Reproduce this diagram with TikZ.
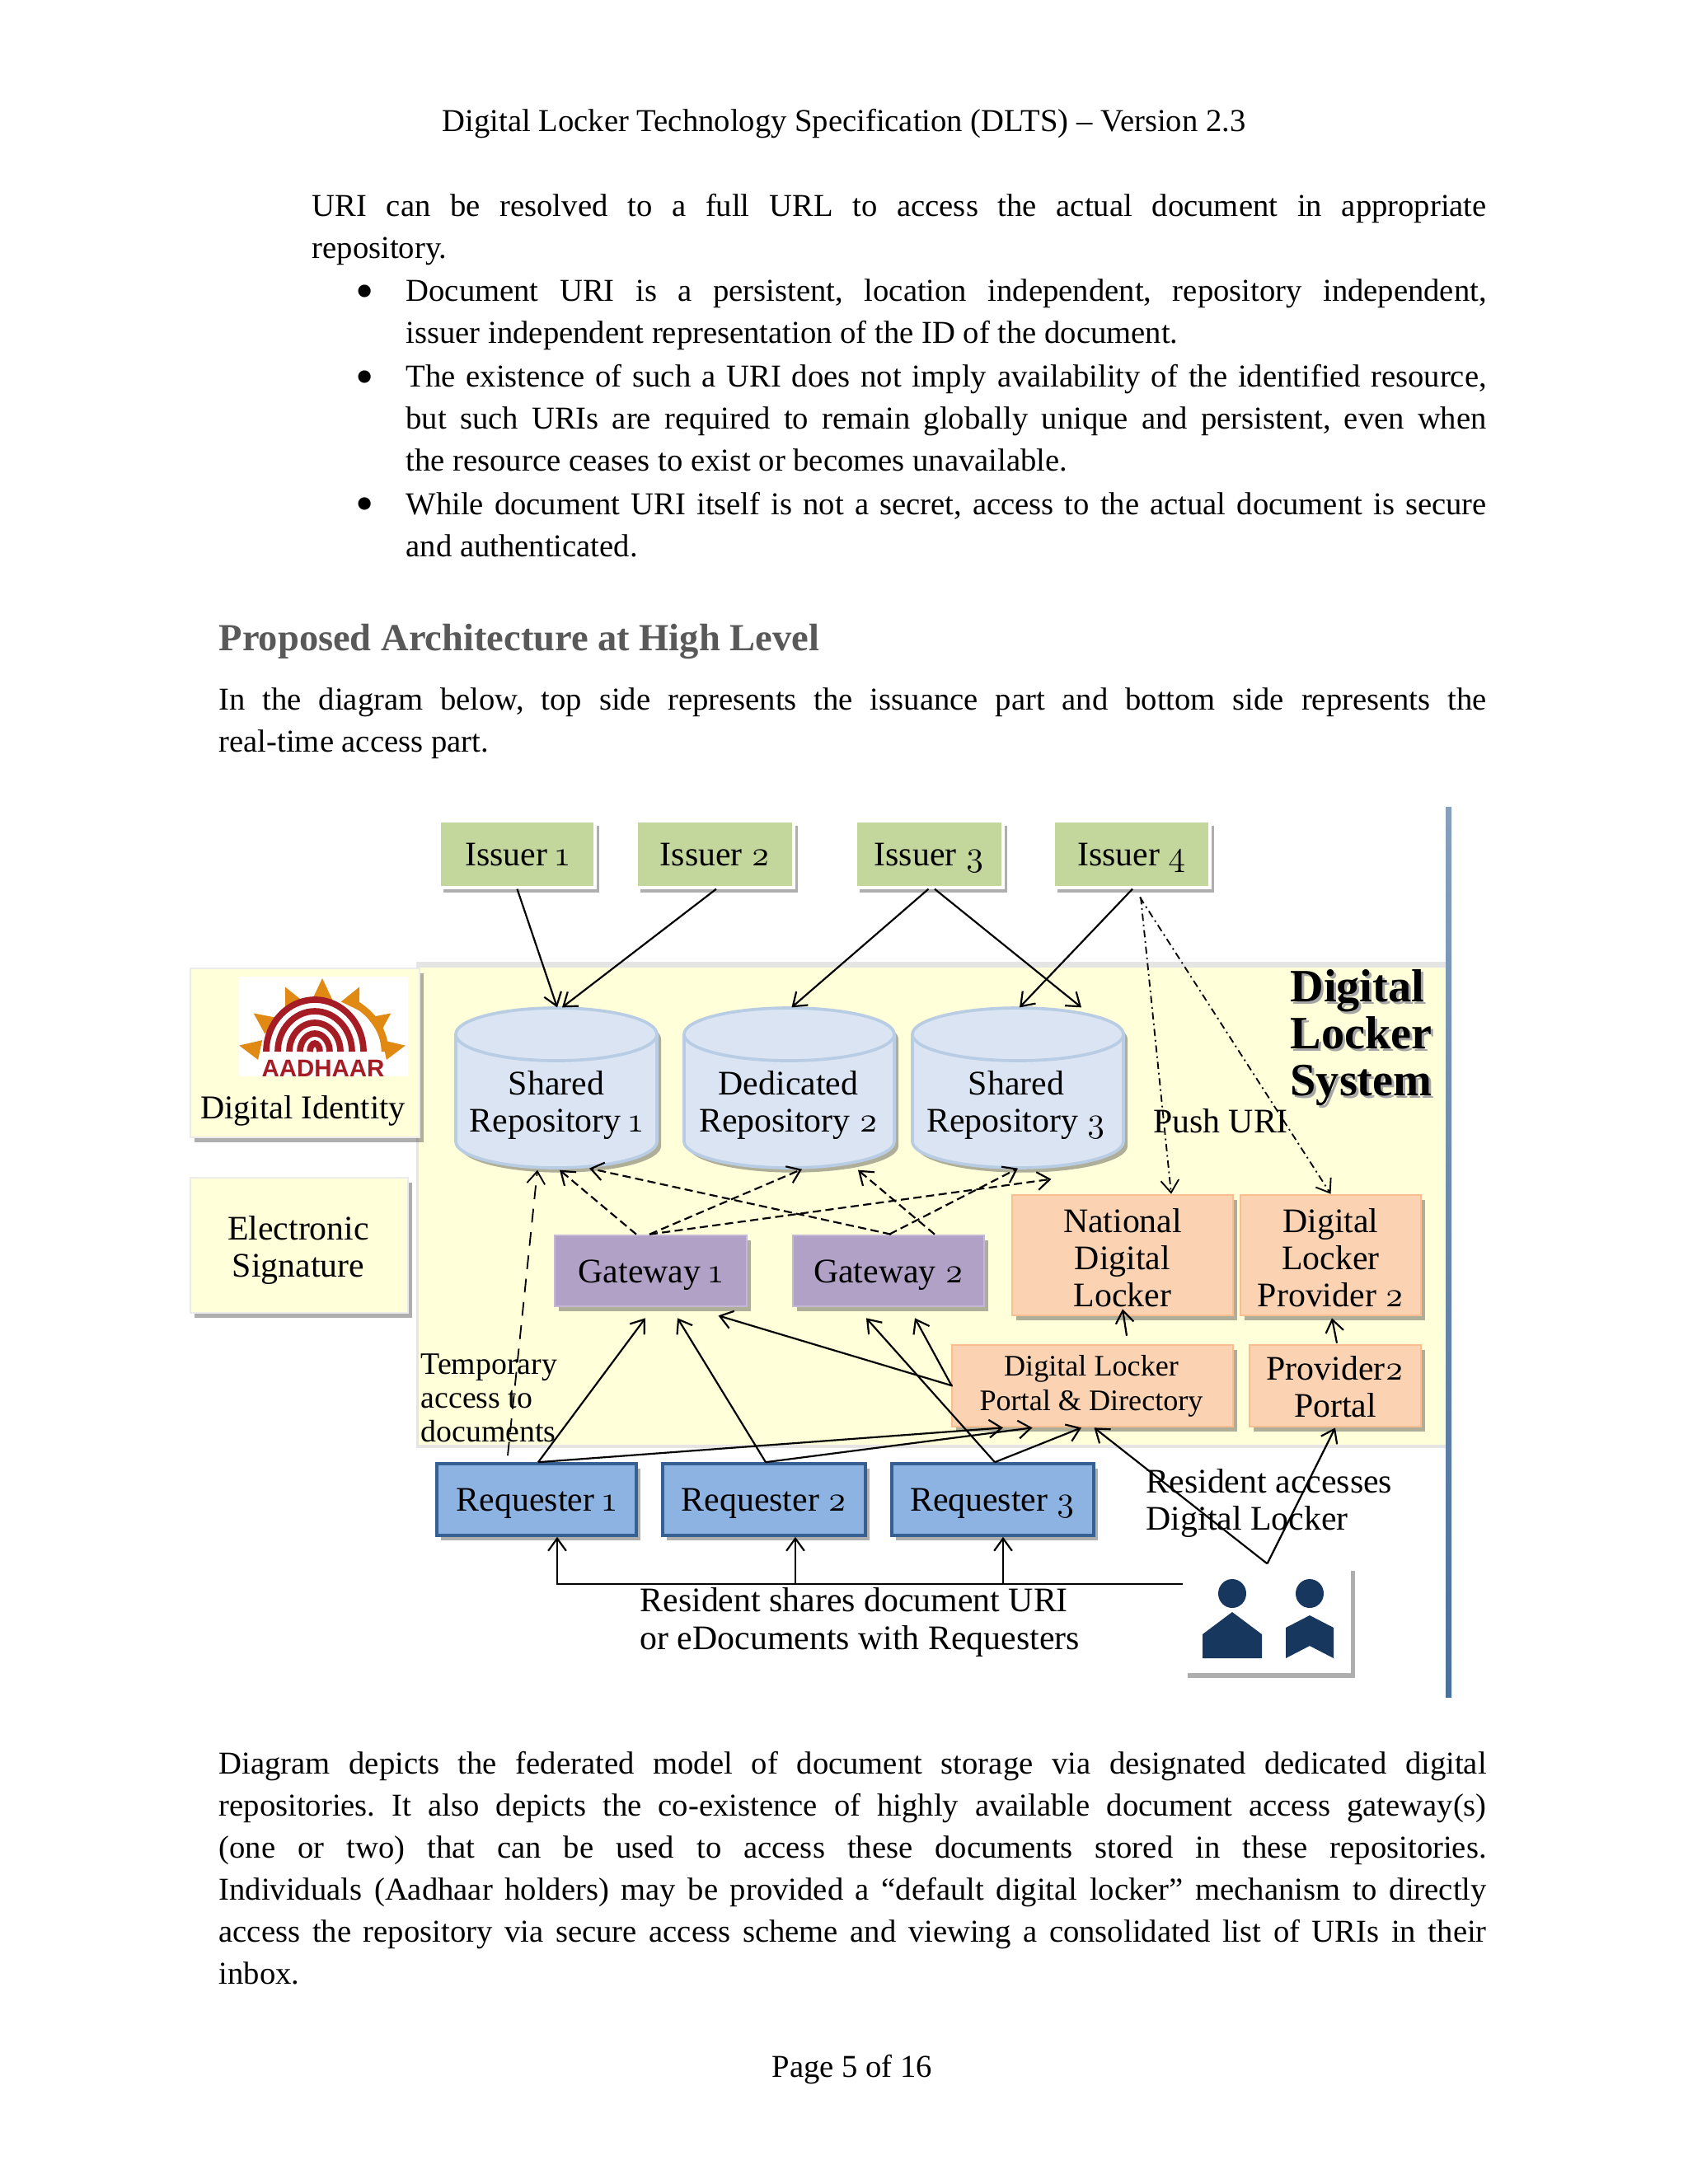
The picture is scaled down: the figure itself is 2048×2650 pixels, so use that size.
\documentclass[tikz,border=0pt]{standalone}
\usepackage{fontspec}
\setmainfont{Liberation Serif}
\newfontfamily\logofont{Liberation Sans}
\newfontfamily\osf[Numbers=OldStyle]{Latin Modern Roman}
\usetikzlibrary{arrows.meta,shadows}
\newlength{\ux}\setlength{\ux}{0.2989pt}
\newcommand{\os}[1]{{\osf #1}}
\definecolor{sysyellow}{HTML}{FFFFD9}
\definecolor{issuerg}{HTML}{C3D69B}
\definecolor{repofill}{HTML}{DAE4F2}
\definecolor{repoline}{HTML}{B8CCE4}
\definecolor{gatep}{HTML}{B2A1C7}
\definecolor{orangef}{HTML}{FBD3B2}
\definecolor{orangel}{HTML}{F9BE8F}
\definecolor{reqf}{HTML}{8DB3E2}
\definecolor{reql}{HTML}{366092}
\definecolor{personc}{HTML}{17375E}
\definecolor{aadred}{HTML}{A51C24}
\definecolor{aador}{HTML}{E08A14}
\definecolor{headg}{HTML}{595959}
\tikzset{
  shad/.style={drop shadow={shadow xshift=1.5pt,shadow yshift=-1.7pt,fill=black!70,opacity=.45}},
  boxbase/.style={rectangle,inner sep=0pt,align=center,shad,font=\fontsize{12.5}{13.4}\selectfont},
  oneline/.style={text height=10pt,text depth=1.4pt},
  issuerbox/.style={boxbase,oneline,fill=issuerg,draw=white,line width=1pt},
  yellowbox/.style={boxbase,fill=sysyellow,draw=white!92!black,line width=.8pt},
  gatebox/.style={boxbase,oneline,fill=gatep,draw=gatep!75!white,line width=.8pt},
  orangebox/.style={boxbase,fill=orangef,draw=orangel,line width=.8pt},
  reqbox/.style={boxbase,oneline,fill=reqf,draw=reql,line width=1.1pt},
  whitebox/.style={boxbase,fill=white},
  repoframe/.style={rectangle,inner sep=0pt},
  repopath/.style={fill=repofill,draw=repoline,line width=1.1pt,shad},
  lbl/.style={inner sep=0pt,align=center,font=\fontsize{12.5}{13.4}\selectfont},
  lblleft/.style={inner sep=0pt,align=left,anchor=west,font=\fontsize{11.3}{12.3}\selectfont},
  arr/.style={-{Straight Barb[length=4.5pt,width=6.5pt]},line width=.65pt,black},
  darr/.style={arr,dash pattern=on 3pt off 1.6pt},
  longd/.style={arr,dash pattern=on 5pt off 3.5pt,line width=.55pt},
  dotd/.style={arr,dash pattern=on 2.6pt off 1.4pt on .6pt off 1.4pt,line width=.55pt},
  bodyp/.style={anchor=north west,inner sep=0pt,align=justify,font=\fontsize{11.55}{15.2}\selectfont\frenchspacing},
  bul/.style={inner sep=0pt,font=\fontsize{19}{19}\selectfont},
  simple/.style={inner sep=0pt,font=\fontsize{11.55}{15.2}\selectfont},
  dlsfont/.style={inner sep=0pt,align=left,anchor=north west,font=\fontsize{16.8}{17}\selectfont\bfseries},
}
\begin{document}
\begin{tikzpicture}[x=\ux,y=-\ux]
\useasboundingbox (0,0) rectangle (2048,2650);
\fill[white] (0,0) rectangle (2048,2650);
% page text
\node[simple] (hdr) at (1024,150) {Digital Locker Technology Specification (DLTS) – Version 2.3};
\node[bodyp,text width=1425\ux] (p1) at (378,235) {URI can be resolved to a full URL to access the actual document in appropriate\linebreak repository.};
\node[bul] (b1) at (443,360) {•};
\node[bodyp,text width=1311\ux] (t1) at (492,338) {Document URI is a persistent, location independent, repository independent,\linebreak issuer independent representation of the ID of the document.};
\node[bul] (b2) at (443,464) {•};
\node[bodyp,text width=1311\ux] (t2) at (492,442) {The existence of such a URI does not imply availability of the identified resource,\linebreak but such URIs are required to remain globally unique and persistent, even when\linebreak the resource ceases to exist or becomes unavailable.};
\node[bul] (b3) at (443,618) {•};
\node[bodyp,text width=1311\ux] (t3) at (492,597) {While document URI itself is not a secret, access to the actual document is secure\linebreak and authenticated.};
\node[anchor=west,inner sep=0pt,text=headg,font=\fontsize{13.9}{16}\selectfont\bfseries] (head) at (265,778) {Proposed Architecture at High Level};
\node[bodyp,text width=1538\ux] (p2) at (265,834) {In the diagram below, top side represents the issuance part and bottom side represents the\linebreak real-time access part.};
\node[bodyp,text width=1538\ux] (p3) at (265,2125) {Diagram depicts the federated model of document storage via designated dedicated digital\linebreak repositories. It also depicts the co-existence of highly available document access gateway(s)\linebreak (one or two) that can be used to access these documents stored in these repositories.\linebreak Individuals (Aadhaar holders) may be provided a “default digital locker” mechanism to directly\linebreak access the repository via secure access scheme and viewing a consolidated list of URIs in their\linebreak inbox.};
\node[simple] (ftr) at (1034,2511) {Page 5 of 16};
% system area and bar
\fill[black!10] (505,1167) rectangle (1754,1757);
\fill[sysyellow] (508,1174) rectangle (1754,1753);
\shade[top color=reql!60!white,bottom color=reql!90!white] (1754,979) rectangle (1761,2059);
% issuers
\node[issuerbox,minimum width=189\ux,minimum height=81\ux] (is1) at (627.5,1036.5) {Issuer \os{1}};
\node[issuerbox,minimum width=191\ux,minimum height=81\ux] (is2) at (867.5,1036.5) {Issuer \os{2}};
\node[issuerbox,minimum width=179\ux,minimum height=81\ux] (is3) at (1127.5,1036.5) {Issuer \os{3}};
\node[issuerbox,minimum width=190\ux,minimum height=81\ux] (is4) at (1373,1036.5) {Issuer \os{4}};
% left boxes
\node[yellowbox,minimum width=278\ux,minimum height=205\ux] (di) at (370,1277.5) {};
\node[yellowbox,minimum width=264\ux,minimum height=164\ux] (es) at (363,1511) {};
\node[lbl] (est) at (362,1517) {Electronic\\Signature};
\node[lbl,font=\fontsize{12.1}{13}\selectfont] (dit) at (367.5,1348) {Digital Identity};
% logo
\fill[white] (290,1185) rectangle (495,1306);
\foreach \a in {90,116,64,144,36,168,12}{
  \fill[aador] ({391+103*cos(\a)},{1290-103*sin(\a)}) -- ({391+78*cos(\a-9)},{1290-78*sin(\a-9)}) -- ({391+78*cos(\a+9)},{1290-78*sin(\a+9)}) -- cycle;}
\draw[aador,line width=2.6pt] (420.6,1212.7) arc[start angle=297,end angle=360,x radius=85,y radius=71];
\foreach \r in {59,45,31,18,6}{
  \draw[aadred,line width=2.3pt] ({382-\r},1276) arc[start angle=180,end angle=360,x radius=\r,y radius={\r+4}];}
\node[inner sep=0pt,text=aadred,font=\fontsize{8.8}{9}\logofont\bfseries] (aad) at (392,1296) {AADHAAR};
% repositories
\foreach \nm/\cx/\rx in {rep1/675/122,rep2/957.5/127.5,rep3/1235/128}{
  \draw[repopath] ({\cx-\rx},1255) arc[start angle=180,end angle=360,x radius=\rx,y radius=32] -- ({\cx+\rx},1385) arc[start angle=0,end angle=180,x radius=\rx,y radius=32] -- cycle;
  \draw[repoline,line width=1.1pt] ({\cx-\rx},1255) arc[start angle=180,end angle=0,x radius=\rx,y radius=32];
  \node[repoframe,minimum width={2*\rx*\ux},minimum height=194\ux] (\nm) at (\cx,1320) {};
}
\node[lbl] (rep1t) at (675,1341) {Shared\\Repository \os{1}};
\node[lbl] (rep2t) at (956.5,1341) {Dedicated\\Repository \os{2}};
\node[lbl] (rep3t) at (1233,1341) {Shared\\Repository \os{3}};
% gateways
\node[gatebox,minimum width=233\ux,minimum height=86\ux] (gw1) at (789.5,1542) {Gateway \os{1}};
\node[gatebox,minimum width=232\ux,minimum height=86\ux] (gw2) at (1078,1542) {Gateway \os{2}};
% orange
\node[orangebox,minimum width=268\ux,minimum height=146\ux] (ndl) at (1362,1523) {};
\node[lbl] (ndlt) at (1362,1526) {National\\Digital\\Locker};
\node[orangebox,minimum width=219\ux,minimum height=146\ux] (dlp) at (1614.5,1523) {};
\node[lbl] (dlpt) at (1614.5,1526) {Digital\\Locker\\Provider \os{2}};
\node[orangebox,minimum width=341\ux,minimum height=99\ux] (portal) at (1325.5,1681.5) {};
\node[lbl,font=\fontsize{10.8}{12.7}\selectfont] (portalt) at (1324,1682) {Digital Locker\\Portal \& Directory};
\node[orangebox,minimum width=208\ux,minimum height=99\ux] (p2p) at (1620,1681.5) {};
\node[lbl] (p2pt) at (1620,1683) {Provider\os{2}\\Portal};
% requesters
\node[reqbox,minimum width=242\ux,minimum height=87\ux] (rq1) at (651,1819.5) {Requester \os{1}};
\node[reqbox,minimum width=246\ux,minimum height=87\ux] (rq2) at (927,1819.5) {Requester \os{2}};
\node[reqbox,minimum width=245\ux,minimum height=87\ux] (rq3) at (1204.5,1819.5) {Requester \os{3}};
% people
\node[whitebox,minimum width=203\ux,minimum height=130\ux] (people) at (1537.5,1965) {};
\fill[personc] (1495,1933.5) ellipse[x radius=17,y radius=17.5];
\fill[personc] (1495,1956) -- (1531,1983) -- (1531,2012) -- (1459,2012) -- (1459,1983) -- cycle;
\fill[personc] (1589,1933.5) ellipse[x radius=17,y radius=17.5];
\fill[personc] (1589,1960) -- (1618,1975) -- (1618,2012) -- (1589,1997) -- (1560,2012) -- (1560,1975) -- cycle;
% labels
\node[dlsfont,text=black!35] (dlsb) at (1568,1179) {Digital\\Locker\\System};
\node[dlsfont] (dls) at (1565,1176) {Digital\\Locker\\System};
\node[lbl] (push) at (1481,1360) {Push URI};
\node[lblleft] (temp) at (510,1696) {Temporary\\access to\\documents};
\node[lblleft,font=\fontsize{12.5}{13.8}\selectfont] (res) at (776,1968) {Resident shares document URI\\or eDocuments with Requesters};
\node[lblleft,font=\fontsize{12.5}{13.2}\selectfont] (acc) at (1390,1824) {Resident accesses\\Digital Locker};
% issuer connectors
\draw[arr] (is1.south) -- ([xshift=1\ux]rep1.north);
\draw[arr] ([xshift=1.5\ux]is2.south) -- ([xshift=7\ux]rep1.north);
\draw[arr] ([xshift=-1\ux]is3.south) -- ([xshift=3\ux]rep2.north);
\draw[arr] ([xshift=6.5\ux]is3.south) -- ([xshift=77\ux]rep3.north);
\draw[arr] ([xshift=1\ux]is4.south) -- ([xshift=2\ux]rep3.north);
\draw[dotd] ([xshift=11\ux,yshift=-10\ux]is4.south) -- ([xshift=59\ux]ndl.north);
\draw[dotd] ([xshift=10\ux,yshift=-10\ux]is4.south) -- (dlp.north);
% gateway connectors
\draw[darr] ([xshift=-17.5\ux]gw1.north) -- ([xshift=4\ux,yshift=-2\ux]rep1.south);
\draw[darr] ([xshift=-1.5\ux]gw1.north) -- ([xshift=15.5\ux,yshift=-1\ux]rep2.south);
\draw[darr] ([xshift=-1.5\ux]gw1.north) -- ([xshift=40.5\ux,yshift=-13\ux]rep3.south);
\draw[darr] ([xshift=3\ux]gw2.north) -- ([xshift=40\ux]rep1.south);
\draw[darr] ([xshift=56\ux]gw2.north) -- ([xshift=83.5\ux,yshift=-2\ux]rep2.south);
\draw[darr] ([xshift=1\ux]gw2.north) -- (rep3.south);
\draw[longd] ([xshift=-35\ux,yshift=8\ux]rq1.north) -- ([xshift=-23\ux,yshift=-2\ux]rep1.south);
% requester connectors
\draw[arr] ([xshift=2\ux]rq1.north) -- ([xshift=-6.5\ux,yshift=-13\ux]gw1.south);
\draw[arr] ([xshift=2\ux]rq1.north) -- ([xshift=-108.5\ux]portal.south);
\draw[arr] ([xshift=2\ux]rq2.north) -- ([xshift=32.5\ux,yshift=-13\ux]gw1.south);
\draw[arr] ([xshift=2\ux]rq2.north) -- ([xshift=-73\ux]portal.south);
\draw[arr] ([xshift=2.5\ux]rq3.north) -- ([xshift=-27\ux,yshift=-13\ux]gw2.south);
\draw[arr] ([xshift=2.5\ux]rq3.north) -- ([xshift=-13.5\ux]portal.south);
\draw[arr] ([xshift=2\ux]portal.west) -- ([xshift=82\ux,yshift=-10\ux]gw1.south);
\draw[arr] ([xshift=1\ux]portal.west) -- ([xshift=32\ux,yshift=-13\ux]gw2.south);
\draw[arr] ([xshift=41.5\ux,yshift=10\ux]portal.north) -- ([yshift=9\ux]ndl.south);
\draw[arr] ([xshift=2\ux,yshift=1\ux]p2p.north) -- ([xshift=1.5\ux,yshift=-2\ux]dlp.south);
\draw[arr] ([yshift=2\ux]people.north) -- ([xshift=2\ux]portal.south);
\draw[arr] ([yshift=2\ux]people.north) -- (p2p.south);
% resident bus
\coordinate (bus) at ([yshift=43\ux]people.west);
\draw[arr] (bus) -| ([xshift=25\ux]rq1.south);
\draw[arr] ([xshift=38\ux]rq2.south |- bus) -- ([xshift=38\ux]rq2.south);
\draw[arr] ([xshift=12.5\ux]rq3.south |- bus) -- ([xshift=12.5\ux]rq3.south);
\end{tikzpicture}
\end{document}
